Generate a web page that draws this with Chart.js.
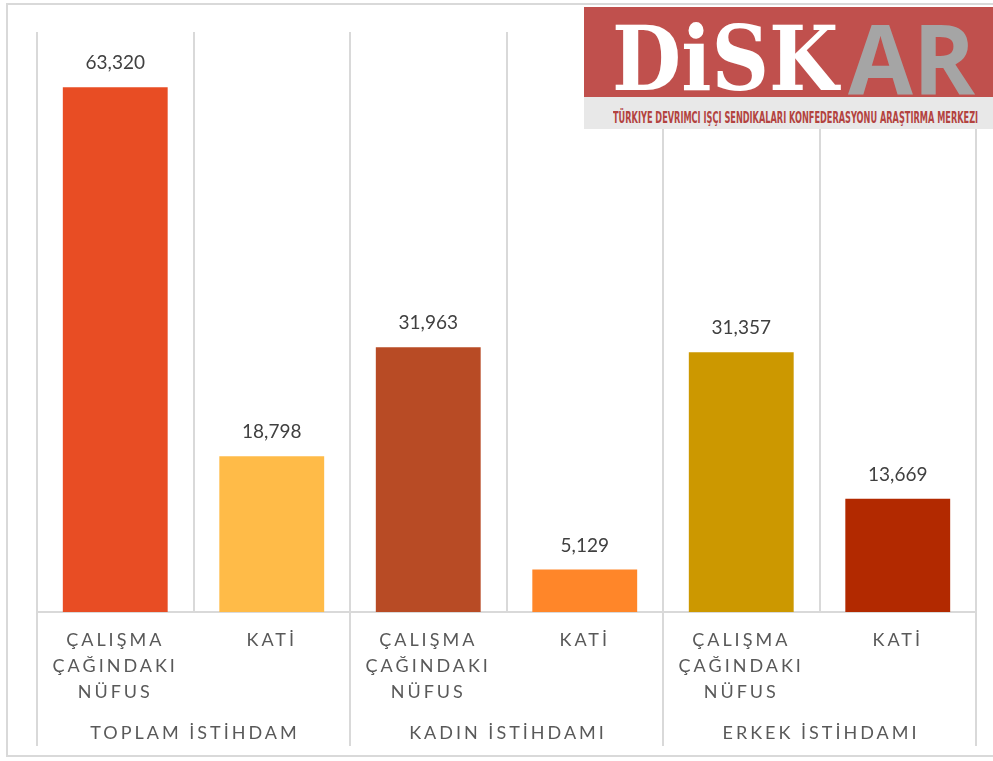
<!DOCTYPE html>
<html>
<head>
<meta charset="utf-8">
<script src="https://cdn.jsdelivr.net/npm/chart.js@4"></script>
<style>
  body { margin: 0; background: #fff; }
  #wrap { position: relative; width: 993px; height: 761px; overflow: hidden; }
  #frame { position: absolute; left: 6px; top: 3px; width: 1000px; height: 754px; border: 2px solid #D9D9D9; box-sizing: border-box; }
  #logo { position: absolute; left: 584px; top: 7px; width: 409px; height: 90px; background: #C0504D; overflow: hidden; }
  #logo span, #band span { position: absolute; white-space: nowrap; transform-origin: left; line-height: normal; }
  #logo .disk { left: 28px; top: -2px; font-family: "DejaVu Serif"; font-weight: bold; font-size: 90px; color: #fff; }
  #logo .ar { left: 264px; top: -16px; font-family: "Open Sans"; font-weight: 700; font-size: 97px; color: #A5A5A5; }
  #band { position: absolute; left: 584px; top: 97px; width: 409px; height: 32px; background: #E8E8E8; }
  #band span { left: 29px; top: 12px; font-family: "DejaVu Sans Condensed", "DejaVu Sans"; font-weight: bold; font-size: 15px; color: #B3433F; }
</style>
</head>
<body>
<div id="wrap">
  <canvas id="chart"></canvas>
  <div id="frame"></div>
  <div id="logo"><span class="disk" data-w="226">DiSK</span><span class="ar" data-w="127">AR</span></div>
  <div id="band"><span data-w="365">TÜRKIYE DEVRIMCI IŞÇI SENDIKALARI KONFEDERASYONU ARAŞTIRMA MERKEZI</span></div>
</div>
<script>
const categories = [
  ['ÇALIŞMA', 'ÇAĞINDAKI', 'NÜFUS'], ['KATİ'],
  ['ÇALIŞMA', 'ÇAĞINDAKI', 'NÜFUS'], ['KATİ'],
  ['ÇALIŞMA', 'ÇAĞINDAKI', 'NÜFUS'], ['KATİ']
];
const groups = ['TOPLAM İSTİHDAM', 'KADIN İSTİHDAMI', 'ERKEK İSTİHDAMI'];
const values = [63320, 18798, 31963, 5129, 31357, 13669];
const colors = ['#E84D24', '#FFBB48', '#B84B25', '#FF8629', '#CC9800', '#B22900'];

const gridColor = '#D9D9D9';

// squeeze logo texts to their width
document.querySelectorAll('[data-w]').forEach(el => {
  el.style.transform = 'scaleX(' + (el.dataset.w / el.offsetWidth) + ')';
});

// value labels above bars, group labels and separators under the axis
const extras = {
  id: 'extras',
  beforeDraw(chart) {
    chart.ctx.letterSpacing = '3px';
  },
  afterDatasetsDraw(chart) {
    const ctx = chart.ctx;
    ctx.save();
    ctx.letterSpacing = '0px';
    ctx.font = '19px Lato';
    ctx.fillStyle = '#404040';
    ctx.textAlign = 'center';
    ctx.textBaseline = 'middle';
    chart.getDatasetMeta(0).data.forEach((bar, i) => {
      ctx.fillText(values[i].toLocaleString('en-US'), bar.x, bar.y - 24);
    });
    ctx.restore();
  },
  afterDraw(chart) {
    const ctx = chart.ctx;
    const x = chart.scales.x;
    const step = x.getPixelForValue(1) - x.getPixelForValue(0);
    const bottom = chart.chartArea.bottom;
    ctx.save();
    ctx.strokeStyle = gridColor;
    ctx.lineWidth = 2;
    for (let g = 0; g <= groups.length; g++) {
      const px = x.getPixelForValue(g * 2) - step / 2;
      ctx.beginPath();
      ctx.moveTo(px, bottom);
      ctx.lineTo(px, bottom + 134);
      ctx.stroke();
    }
    ctx.letterSpacing = '3px';
    ctx.font = '18px Lato';
    ctx.fillStyle = '#595959';
    ctx.textAlign = 'center';
    ctx.textBaseline = 'middle';
    groups.forEach((g, i) => {
      const cx = (x.getPixelForValue(i * 2) + x.getPixelForValue(i * 2 + 1)) / 2;
      ctx.fillText(g, cx + 1.5, bottom + 121);
    });
    ctx.restore();
    ctx.letterSpacing = '0px';
  }
};

new Chart(document.getElementById('chart'), {
  type: 'bar',
  data: {
    labels: categories,
    datasets: [{
      data: values,
      backgroundColor: colors,
      categoryPercentage: 1,
      barPercentage: 0.67
    }]
  },
  options: {
    responsive: true,
    maintainAspectRatio: false,
    animation: false,
    layout: { padding: { left: 37, right: 17, top: 32, bottom: 0 } },
    plugins: { legend: { display: false }, tooltip: { enabled: false } },
    scales: {
      y: { display: false, min: 0, max: 70000 },
      x: {
        afterFit(scale) { scale.height = 149; },
        grid: { color: gridColor, lineWidth: 2, offset: true, drawTicks: false },
        border: { color: gridColor, width: 2 },
        ticks: {
          maxRotation: 0,
          autoSkip: false,
          padding: 15,
          color: '#595959',
          font: { family: 'Lato', size: 18, lineHeight: 26 / 18 }
        }
      }
    }
  },
  plugins: [extras]
});
</script>
</body>
</html>
